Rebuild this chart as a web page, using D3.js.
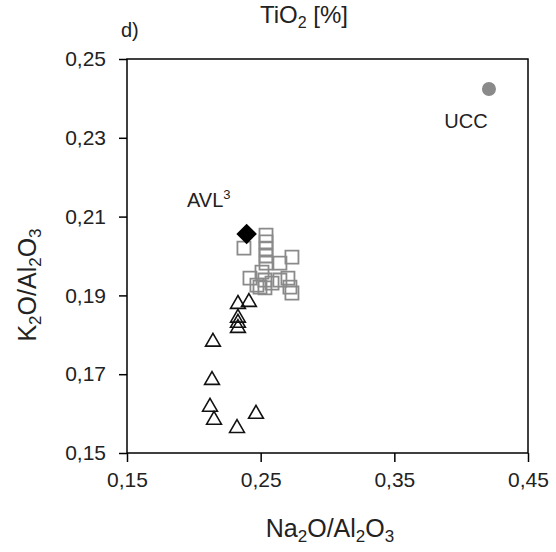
<!DOCTYPE html>
<html>
<head>
<meta charset="utf-8">
<script src="https://cdn.jsdelivr.net/npm/d3@7"></script>
<style>
  html, body { margin: 0; padding: 0; background: #fff; }
  svg { display: block; font-family: "Liberation Sans", Arial, sans-serif; }
</style>
</head>
<body>
<svg id="chart" width="556" height="552"></svg>
<script>
// ---- data ----
const xTicks = [0.15, 0.25, 0.35, 0.45];
const yTicks = [0.15, 0.17, 0.19, 0.21, 0.23, 0.25];

// grey open squares
const squaresX = [0.2375, 0.2540, 0.2540, 0.2540, 0.2540, 0.2540, 0.2734, 0.2644, 0.2420, 0.2510, 0.2532, 0.2495, 0.2585, 0.2644, 0.2704, 0.2719, 0.2734, 0.2532, 0.2472];
const squaresY = [0.2020, 0.2053, 0.2036, 0.2018, 0.2000, 0.1982, 0.1997, 0.1982, 0.1944, 0.1959, 0.1939, 0.1921, 0.1931, 0.1939, 0.1944, 0.1921, 0.1906, 0.1919, 0.1926];

// black open triangles
const trianglesX = [0.2330, 0.2412, 0.2330, 0.2330, 0.2330, 0.2143, 0.2136, 0.2121, 0.2151, 0.2323, 0.2465];
const trianglesY = [0.1878, 0.1883, 0.1843, 0.1830, 0.1817, 0.1782, 0.1685, 0.1617, 0.1584, 0.1563, 0.1599];

// reference points
const avlPoint = [0.2395, 0.2056];
const uccPoint = [0.4208, 0.2424];

// ---- chart ----
const svg = d3.select("#chart");
const x = d3.scaleLinear().domain([0.15, 0.45]).range([127, 528]);
const y = d3.scaleLinear().domain([0.15, 0.25]).range([453, 59]);
const fmt = d => d3.format(".2f")(d).replace(".", ",");
const textCol = "#222";

// axes
const gx = svg.append("g").attr("transform", `translate(0,${y(0.15)})`)
  .call(d3.axisBottom(x).tickValues(xTicks).tickSize(9).tickSizeOuter(0).tickFormat(fmt));
gx.select(".domain").remove();
gx.selectAll(".tick line").attr("stroke", "#000").attr("stroke-width", 1.5);
gx.selectAll(".tick text").attr("font-size", 21).attr("fill", textCol)
  .attr("font-family", "Liberation Sans, Arial, sans-serif").attr("y", 19).attr("dy", "0.71em");

const gy = svg.append("g").attr("transform", `translate(${x(0.15)},0)`)
  .call(d3.axisLeft(y).tickValues(yTicks).tickSize(8).tickSizeOuter(0).tickFormat(fmt));
gy.select(".domain").remove();
gy.selectAll(".tick line").attr("stroke", "#000").attr("stroke-width", 1.5);
gy.selectAll(".tick text").attr("font-size", 21).attr("fill", textCol)
  .attr("font-family", "Liberation Sans, Arial, sans-serif").attr("x", -21);

// plot frame
svg.append("rect")
  .attr("x", x(0.15)).attr("y", y(0.25))
  .attr("width", x(0.45) - x(0.15)).attr("height", y(0.15) - y(0.25))
  .attr("fill", "none").attr("stroke", "#000").attr("stroke-width", 1.5);

// squares
const sq = d3.symbol().type(d3.symbolSquare).size(170);
svg.append("g").selectAll("path").data(squaresX.map((v, i) => [v, squaresY[i]]))
  .join("path")
  .attr("d", sq)
  .attr("transform", d => `translate(${x(d[0])},${y(d[1])})`)
  .attr("fill", "none").attr("stroke", "#8a8a8a").attr("stroke-width", 1.8);

// triangles
const tri = d3.symbol().type(d3.symbolTriangle).size(95);
svg.append("g").selectAll("path").data(trianglesX.map((v, i) => [v, trianglesY[i]]))
  .join("path")
  .attr("d", tri)
  .attr("transform", d => `translate(${x(d[0])},${y(d[1])})`)
  .attr("fill", "none").attr("stroke", "#111").attr("stroke-width", 1.6);

// AVL diamond
svg.append("path")
  .attr("d", d3.symbol().type(d3.symbolSquare).size(210))
  .attr("transform", `translate(${x(avlPoint[0])},${y(avlPoint[1])}) rotate(45)`)
  .attr("fill", "#000");

// UCC circle
svg.append("circle")
  .attr("cx", x(uccPoint[0])).attr("cy", y(uccPoint[1])).attr("r", 7)
  .attr("fill", "#8a8a8a");

// labels
svg.append("text").attr("x", 466).attr("y", 128).attr("text-anchor", "middle")
  .attr("font-size", 20).attr("fill", textCol).text("UCC");

const avl = svg.append("text").attr("x", 187).attr("y", 207)
  .attr("font-size", 20).attr("fill", textCol);
avl.append("tspan").text("AVL");
avl.append("tspan").attr("font-size", 13).attr("dy", -8).text("3");

svg.append("text").attr("x", 121).attr("y", 37)
  .attr("font-size", 20).attr("fill", textCol).text("d)");

// top title
const tt = svg.append("text").attr("x", 304).attr("y", 23).attr("text-anchor", "middle")
  .attr("font-size", 24).attr("fill", textCol);
tt.append("tspan").text("TiO");
tt.append("tspan").attr("font-size", 16).attr("dy", 5).text("2");
tt.append("tspan").attr("dy", -5).text(" [%]");

// x title
const xt = svg.append("text").attr("x", 330).attr("y", 537).attr("text-anchor", "middle")
  .attr("font-size", 25).attr("fill", textCol);
xt.append("tspan").text("Na");
xt.append("tspan").attr("font-size", 17).attr("dy", 5).text("2");
xt.append("tspan").attr("dy", -5).text("O/Al");
xt.append("tspan").attr("font-size", 17).attr("dy", 5).text("2");
xt.append("tspan").attr("dy", -5).text("O");
xt.append("tspan").attr("font-size", 17).attr("dy", 5).text("3");

// y title
const yt = svg.append("text").attr("transform", "translate(36,285) rotate(-90)")
  .attr("text-anchor", "middle").attr("font-size", 25).attr("fill", textCol);
yt.append("tspan").text("K");
yt.append("tspan").attr("font-size", 17).attr("dy", 5).text("2");
yt.append("tspan").attr("dy", -5).text("O/Al");
yt.append("tspan").attr("font-size", 17).attr("dy", 5).text("2");
yt.append("tspan").attr("dy", -5).text("O");
yt.append("tspan").attr("font-size", 17).attr("dy", 5).text("3");
</script>
</body>
</html>
